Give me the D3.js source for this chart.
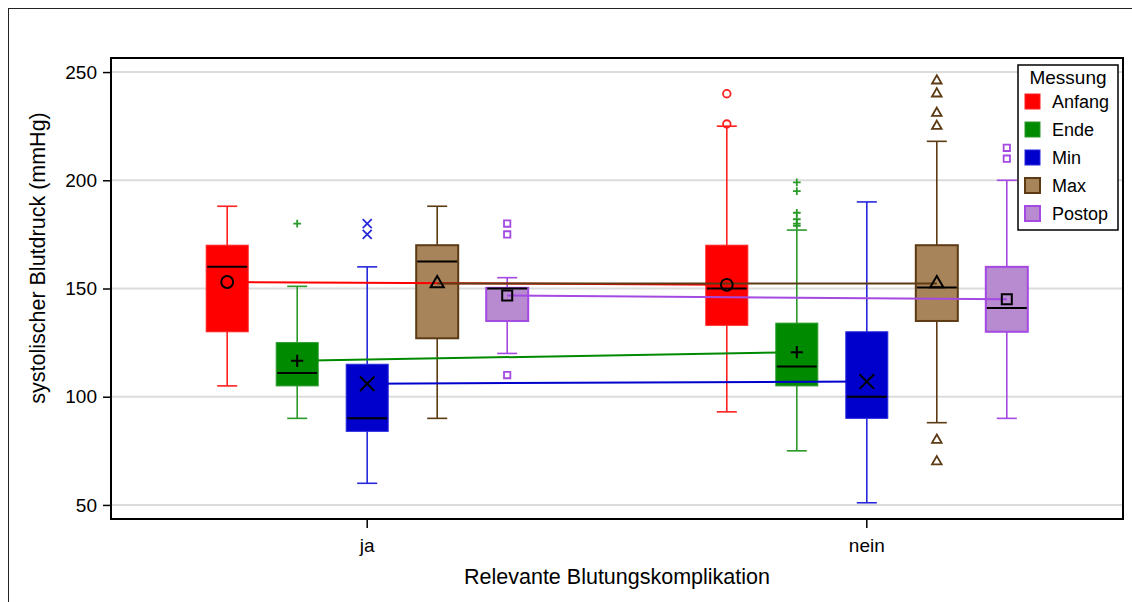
<!DOCTYPE html>
<html>
<head>
<meta charset="utf-8">
<script src="https://cdn.jsdelivr.net/npm/d3@7"></script>
<style>
  html, body { margin: 0; padding: 0; background: #fff; }
  svg { display: block; font-family: "Liberation Sans", Arial, sans-serif; }
</style>
</head>
<body>
<svg id="chart" width="1132" height="602"></svg>
<script>
// Categories
const groups = ["ja", "nein"];
const series = ["Anfang", "Ende", "Min", "Max", "Postop"];
const yTicks = [50, 100, 150, 200, 250];

// Box statistics per series: [whisker low, Q1, median, Q3, whisker high] for ja, nein
const statsAnfang = [[105, 130, 160, 170, 188], [93, 133, 150, 170, 225]];
const statsEnde   = [[90, 105, 111, 125, 151], [75, 105, 114, 134, 177]];
const statsMin    = [[60, 84, 90, 115, 160], [51, 90, 100, 130, 190]];
const statsMax    = [[90, 127, 162.5, 170, 188], [88, 135, 150.5, 170, 218]];
const statsPostop = [[120, 135, 150, 150.3, 155], [90, 130, 141, 160, 200]];

// Means per series for ja, nein
const meansAnfang = [153, 151.7];
const meansEnde   = [116.6, 120.6];
const meansMin    = [106, 107];
const meansMax    = [152.3, 152.3];
const meansPostop = [146.8, 145];

// Outliers per series for ja, nein
const outAnfang = [[], [226, 240]];
const outEnde   = [[180], [179, 180, 182, 185, 195, 199]];
const outMin    = [[175, 180], []];
const outMax    = [[], [70, 80, 225, 231, 240, 246]];
const outPostop = [[110, 175, 180], [210, 215]];

const stats = [statsAnfang, statsEnde, statsMin, statsMax, statsPostop];
const means = [meansAnfang, meansEnde, meansMin, meansMax, meansPostop];
const outs  = [outAnfang, outEnde, outMin, outMax, outPostop];

// Styling per series
const fills   = ["#ff0000", "#008a00", "#0000cc", "#a8845a", "#b88ad0"];
const borders = ["#ff2020", "#2a9a2a", "#2828dc", "#5c3a14", "#a449e2"];

// Thin plus sign drawn as two strokes
const thinPlus = {
  draw(ctx, size) {
    const r = Math.sqrt(size) / 2;
    ctx.moveTo(-r, 0); ctx.lineTo(r, 0);
    ctx.moveTo(0, -r); ctx.lineTo(0, r);
  }
};
const symbols = [d3.symbolCircle, thinPlus, d3.symbolTimes, d3.symbolTriangle, d3.symbolSquare];

const svg = d3.select("#chart");
const W = 1132, H = 602;
const plot = { left: 111, right: 1123, top: 58, bottom: 519 };

// Outer frame
svg.append("rect")
  .attr("x", 8.5).attr("y", 8.5)
  .attr("width", W).attr("height", H)
  .attr("fill", "none").attr("stroke", "#222").attr("stroke-width", 1);

const y = d3.scaleLinear().domain([43.5, 256.5]).range([plot.bottom, plot.top]);
const x0 = d3.scaleBand().domain(groups).range([plot.left, plot.right])
  .paddingInner(0).paddingOuter(0.0128);
const x1 = d3.scaleBand().domain(series).range([-175, 175]);
const boxW = 42, capW = 20;

// Gridlines
svg.append("g").selectAll("line").data(yTicks).join("line")
  .attr("x1", plot.left).attr("x2", plot.right)
  .attr("y1", d => y(d)).attr("y2", d => y(d))
  .attr("stroke", "#dcdcdc").attr("stroke-width", 2);

const cx = (gi, si) => x0(groups[gi]) + x0.bandwidth() / 2 + x1(series[si]) + x1.bandwidth() / 2;

// Boxes, whiskers, medians
const boxes = svg.append("g");
series.forEach((s, si) => {
  groups.forEach((g, gi) => {
    const [lo, q1, med, q3, hi] = stats[si][gi];
    const c = cx(gi, si);
    const gg = boxes.append("g");
    gg.append("line").attr("x1", c).attr("x2", c).attr("y1", y(hi)).attr("y2", y(q3))
      .attr("stroke", borders[si]).attr("stroke-width", 1.6);
    gg.append("line").attr("x1", c).attr("x2", c).attr("y1", y(q1)).attr("y2", y(lo))
      .attr("stroke", borders[si]).attr("stroke-width", 1.6);
    [lo, hi].forEach(v => gg.append("line")
      .attr("x1", c - capW / 2).attr("x2", c + capW / 2)
      .attr("y1", y(v)).attr("y2", y(v))
      .attr("stroke", borders[si]).attr("stroke-width", 1.6));
    gg.append("rect")
      .attr("x", c - boxW / 2).attr("y", y(q3))
      .attr("width", boxW).attr("height", y(q1) - y(q3))
      .attr("fill", fills[si]).attr("stroke", borders[si])
      .attr("stroke-width", si >= 3 ? 2 : 1);
    gg.append("line").attr("x1", c - boxW / 2 + 1).attr("x2", c + boxW / 2 - 1)
      .attr("y1", y(med)).attr("y2", y(med))
      .attr("stroke", "#000").attr("stroke-width", 2);
  });
});

// Mean connection lines
const lineGen = d3.line().x(d => d[0]).y(d => y(d[1]));
svg.append("g").selectAll("path").data(series).join("path")
  .attr("d", (s, si) => lineGen(means[si].map((m, gi) => [cx(gi, si), m])))
  .attr("fill", "none")
  .attr("stroke", (s, si) => si === 3 ? "#5c3a14" : (si === 4 ? "#a449e2" : fills[si]))
  .attr("stroke-width", 2);

// Mean markers
const meanSize = [110, 150, 140, 75, 100];
const markers = svg.append("g");
series.forEach((s, si) => {
  groups.forEach((g, gi) => {
    markers.append("path")
      .attr("transform", `translate(${cx(gi, si)},${y(means[si][gi])})`)
      .attr("d", d3.symbol().type(symbols[si]).size(meanSize[si])())
      .attr("fill", "none")
      .attr("stroke", "#000").attr("stroke-width", 2);
  });
});

// Outliers
const outSize = [45, 60, 55, 40, 40];
const outG = svg.append("g");
series.forEach((s, si) => {
  groups.forEach((g, gi) => {
    outs[si][gi].forEach(v => {
      outG.append("path")
        .attr("transform", `translate(${cx(gi, si)},${y(v)})`)
        .attr("d", d3.symbol().type(symbols[si]).size(outSize[si])())
        .attr("fill", "none")
        .attr("stroke", borders[si])
        .attr("stroke-width", 1.8);
    });
  });
});

// Y axis
const yAxis = svg.append("g").attr("transform", `translate(${plot.left},0)`)
  .call(d3.axisLeft(y).tickValues(yTicks).tickSize(8).tickPadding(6));
yAxis.select(".domain").remove();
yAxis.selectAll(".tick line").attr("stroke", "#000").attr("stroke-width", 1.5);
yAxis.selectAll(".tick text").attr("font-size", 19).attr("fill", "#000")
  .attr("font-family", "Liberation Sans, Arial, sans-serif");

// X axis
const xAxis = svg.append("g").attr("transform", `translate(0,${plot.bottom})`)
  .call(d3.axisBottom(x0).tickSize(9).tickPadding(11));
xAxis.select(".domain").remove();
xAxis.selectAll(".tick line").attr("stroke", "#000").attr("stroke-width", 1.5);
xAxis.selectAll(".tick text").attr("font-size", 19).attr("fill", "#000")
  .attr("font-family", "Liberation Sans, Arial, sans-serif");

// Plot frame
svg.append("rect")
  .attr("x", plot.left).attr("y", plot.top)
  .attr("width", plot.right - plot.left).attr("height", plot.bottom - plot.top)
  .attr("fill", "none").attr("stroke", "#000").attr("stroke-width", 2);

// Axis titles
svg.append("text")
  .attr("x", (plot.left + plot.right) / 2).attr("y", 584)
  .attr("text-anchor", "middle").attr("font-size", 21.5)
  .text("Relevante Blutungskomplikation");
svg.append("text")
  .attr("transform", `translate(45,258) rotate(-90)`)
  .attr("text-anchor", "middle").attr("font-size", 21.5)
  .text("systolischer Blutdruck (mmHg)");

// Legend
const leg = svg.append("g").attr("transform", "translate(1018,65)");
leg.append("rect").attr("width", 100).attr("height", 165)
  .attr("fill", "#fff").attr("stroke", "#000").attr("stroke-width", 1.5);
leg.append("text").attr("x", 50).attr("y", 19).attr("text-anchor", "middle")
  .attr("font-size", 19).text("Messung");
series.forEach((s, si) => {
  const row = leg.append("g").attr("transform", `translate(0,${29 + si * 28})`);
  row.append("rect").attr("x", 7).attr("y", 0).attr("width", 15).attr("height", 15)
    .attr("fill", fills[si]).attr("stroke", borders[si]).attr("stroke-width", si >= 3 ? 2 : 1);
  row.append("text").attr("x", 34).attr("y", 14).attr("font-size", 18).text(s);
});
</script>
</body>
</html>
